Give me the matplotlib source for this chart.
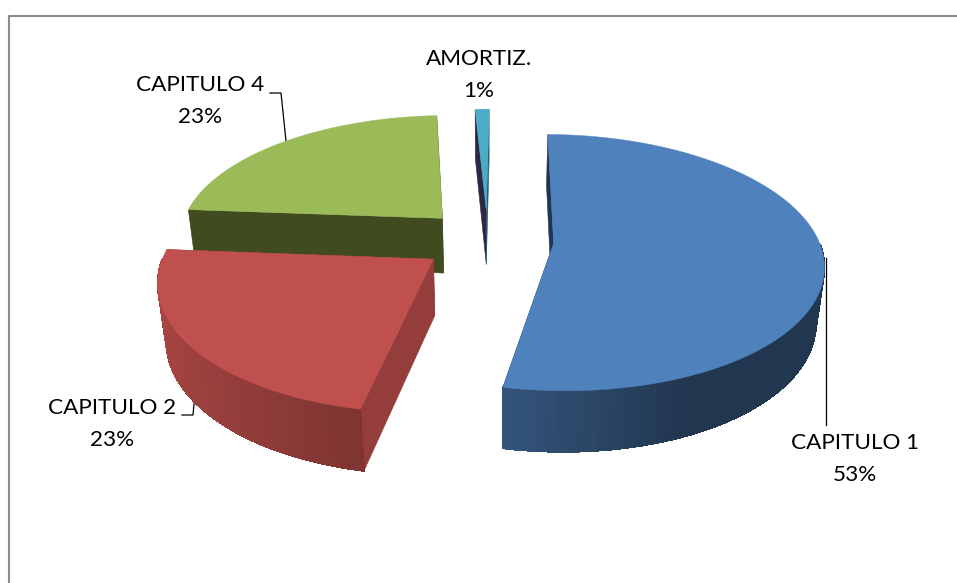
import numpy as np
import matplotlib
matplotlib.use('Agg')
import matplotlib.pyplot as plt
from matplotlib.collections import PolyCollection
from matplotlib.colors import to_rgb

categories = ['CAPITULO 1', 'CAPITULO 2', 'CAPITULO 4', 'AMORTIZ.']
shares = [53, 23, 23, 1]

top_colors = ['#4f81bd', '#c0504d', '#9bbb59', '#4bacc6']
# side walls: first edge of the slice, last edge of the slice
edge_colors = [('#1f3552', '#1f3552'), ('#953d3b', '#953d3b'),
               ('#404b20', '#404b20'), ('#2f2545', '#1e5f70')]
label_pos = [(855, 459), (112, 424), (200, 101), (479, 75)]
draw_order = [2, 3, 1, 0]

# fake camera for the 3d pie, in pixels
R = 265
TILT = 0.469
PERSP = 0.15
DEPTH = 57
SHRINK = 0.025
X0, Y0 = 487.5, 240
EXPLODE = 0.25
FIRST_ANGLE = np.deg2rad(0.7)


def project(x, y, z):
    s = 1 / (1 + PERSP * y / R + SHRINK * z / DEPTH)
    return X0 + x * s, Y0 + (-TILT * y + z) * s


def wall_shade(sin_t):
    return np.interp(sin_t, [-1, -0.187, 0.4], [0.87, 0.65, 0.42])


fig = plt.figure(figsize=(9.57, 5.83), dpi=100)
ax = fig.add_axes([0, 0, 1, 1])
ax.set_xlim(0, 957)
ax.set_ylim(583, 0)
ax.axis('off')

# chart frame, right and bottom run off the picture
ax.plot([8.5, 8.5, 957], [583, 15.5, 15.5], color='#8c8c8c', lw=1.5, zorder=1)

# leader lines
ax.plot([826, 826], [258, 425], color='black', lw=0.9, zorder=20)
ax.plot([270, 281, 286], [93, 93, 141], color='black', lw=0.9, zorder=2)
ax.plot([182, 193, 194], [415, 415, 404], color='black', lw=0.9, zorder=2)

ends = np.cumsum(shares) / np.sum(shares) * 2 * np.pi + FIRST_ANGLE
starts = np.concatenate([[FIRST_ANGLE], ends[:-1]])

z = 3
for i in draw_order:
    t0, t1 = starts[i], ends[i]
    mid = (t0 + t1) / 2
    cx = EXPLODE * R * np.sin(mid)
    cy = EXPLODE * R * np.cos(mid)
    th = np.linspace(t0, t1, 120)
    rim_x = cx + R * np.sin(th)
    rim_y = cy + R * np.cos(th)
    base = np.array(to_rgb(top_colors[i]))

    # flat walls from the centre out to both ends of the arc
    for k, col in zip([0, -1], edge_colors[i]):
        pts = [project(cx, cy, 0), project(rim_x[k], rim_y[k], 0),
               project(rim_x[k], rim_y[k], DEPTH), project(cx, cy, DEPTH)]
        ax.fill(*zip(*pts), color=col, lw=0.4, zorder=z)
        z += 1

    # outer wall, only the part facing us, cut in strips for the gradient
    quads = []
    cols = []
    for j in range(len(th) - 1):
        if np.cos(th[j]) > 0:
            continue
        a = project(rim_x[j], rim_y[j], 0)
        b = project(rim_x[j + 1], rim_y[j + 1], 0)
        c = project(rim_x[j + 1], rim_y[j + 1], DEPTH)
        d = project(rim_x[j], rim_y[j], DEPTH)
        quads.append([a, b, c, d])
        cols.append(base * wall_shade(np.sin((th[j] + th[j + 1]) / 2)))
    if quads:
        ax.add_collection(PolyCollection(quads, facecolors=cols, edgecolors=cols,
                                         linewidths=0.5, antialiaseds=False,
                                         zorder=z))
    z += 1

    # top face
    xs, ys = project(np.r_[cx, rim_x], np.r_[cy, rim_y], 0)
    ax.fill(xs, ys, color=top_colors[i], lw=0.3, zorder=z)
    z += 1

for name, val, (x, y) in zip(categories, shares, label_pos):
    ax.text(x, y, f'{name}\n{val}%', ha='center', va='center', family='Lato',
            fontsize=16.2, linespacing=1.8, color='black', zorder=30)

fig.savefig('out.png', dpi=100)
